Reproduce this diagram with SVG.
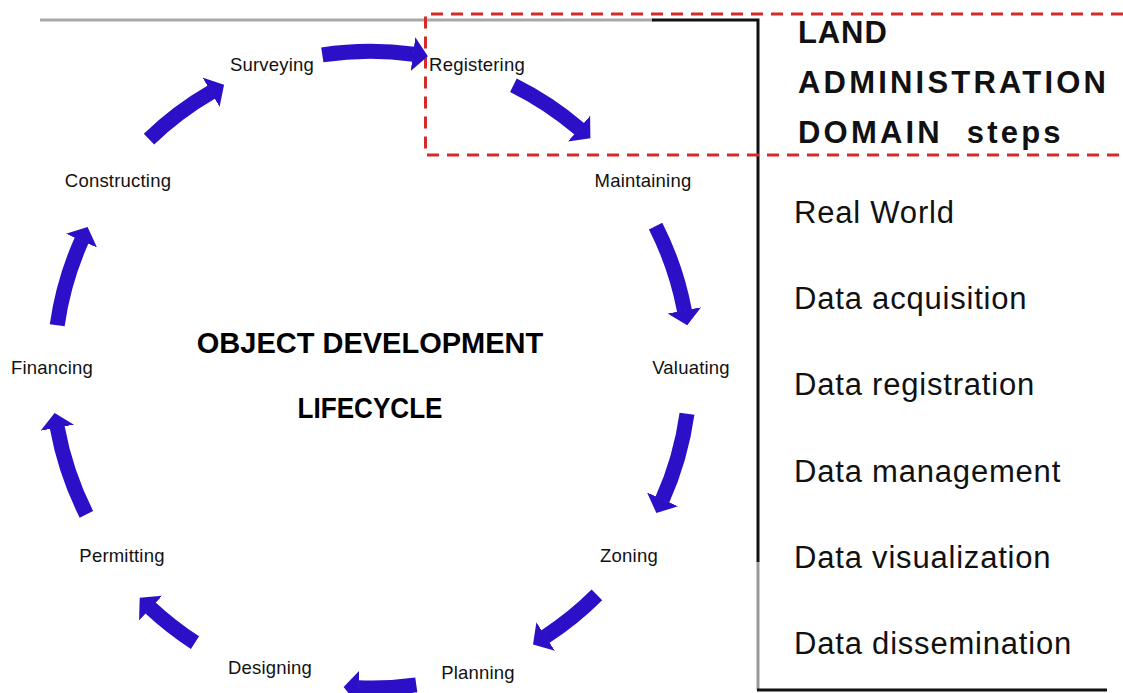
<svg xmlns="http://www.w3.org/2000/svg" width="1123" height="693" viewBox="0 0 1123 693">
<style>
.lbl{font-family:"Liberation Sans",Arial,sans-serif;font-size:18.5px;fill:#111;text-anchor:middle;letter-spacing:0.2px}
.title{font-family:"Liberation Sans",Arial,sans-serif;font-size:29px;font-weight:bold;fill:#000;text-anchor:middle}
.dom{font-family:"Liberation Sans",Arial,sans-serif;font-size:31px;font-weight:bold;fill:#111;letter-spacing:3.2px}
.step{font-family:"Liberation Sans",Arial,sans-serif;font-size:31px;fill:#111;letter-spacing:0.8px}
.arr{fill:none;stroke:#2B10C8;stroke-width:15;marker-end:url(#head)}
</style>
<defs>
<marker id="head" markerUnits="userSpaceOnUse" markerWidth="16" markerHeight="34" refX="0.5" refY="17" orient="auto" viewBox="0 0 16 34">
<path d="M0,0 L15,17 L0,34 Z" fill="#2B10C8"/>
</marker>
</defs>
<rect width="1123" height="693" fill="#fff"/>
<g id="frame">
<line x1="40" y1="20" x2="653" y2="20" stroke="#A8A8A8" stroke-width="3"/>
<path d="M652,20 H758 V562" fill="none" stroke="#111" stroke-width="3"/>
<line x1="758" y1="562" x2="758" y2="690" stroke="#9A9A9A" stroke-width="3"/>
<line x1="757" y1="690" x2="1107" y2="690" stroke="#111" stroke-width="3"/>
<path d="M1123,14 H425.5 V155 H1123" fill="none" stroke="#D42A2A" stroke-width="3" stroke-dasharray="12 8"/>
</g>
<g id="connectors">
<path class="arr" d="M322.3,54.9 A318,318 0 0 1 413.5,54.2"/>
<path class="arr" d="M513.4,85.2 A318,318 0 0 1 579.4,128.9"/>
<path class="arr" d="M655.6,226.1 A318,318 0 0 1 684.5,310.9"/>
<path class="arr" d="M687,413.7 A318,318 0 0 1 662.3,499.8"/>
<path class="arr" d="M596.9,594.9 A318,318 0 0 1 545.2,636.7"/>
<path class="arr" d="M416.3,684.9 A318,318 0 0 1 358.1,687.7"/>
<path class="arr" d="M195,642.6 A325,325 0 0 1 150.3,607.7"/>
<path class="arr" d="M86.4,514.3 A320,320 0 0 1 57.2,427.2"/>
<path class="arr" d="M57.2,325.2 A318,318 0 0 1 81.7,240.2"/>
<path class="arr" d="M149,139.1 A321,321 0 0 1 211.5,92"/>
</g>
<g id="surveying"><text class="lbl" x="272" y="71">Surveying</text></g>
<g id="registering"><text class="lbl" x="477" y="71">Registering</text></g>
<g id="maintaining"><text class="lbl" x="643" y="187">Maintaining</text></g>
<g id="valuating"><text class="lbl" x="691" y="374">Valuating</text></g>
<g id="zoning"><text class="lbl" x="629" y="562">Zoning</text></g>
<g id="planning"><text class="lbl" x="478" y="679">Planning</text></g>
<g id="designing"><text class="lbl" x="270" y="674">Designing</text></g>
<g id="permitting"><text class="lbl" x="122" y="562">Permitting</text></g>
<g id="financing"><text class="lbl" x="52" y="374">Financing</text></g>
<g id="constructing"><text class="lbl" x="118" y="187">Constructing</text></g>
<g id="lifecycle-title">
<text class="title" x="370" y="353">OBJECT DEVELOPMENT</text>
<text class="title" x="370" y="418" textLength="145" lengthAdjust="spacingAndGlyphs">LIFECYCLE</text>
</g>
<g id="domain-title">
<text class="dom" x="798" y="43" textLength="92" lengthAdjust="spacing">LAND</text>
<text class="dom" x="798" y="93">ADMINISTRATION</text>
<text class="dom" x="798" y="143">DOMAIN <tspan dx="12">steps</tspan></text>
</g>
<g id="domain-steps">
<text class="step" x="794" y="223">Real World</text>
<text class="step" x="794" y="309">Data acquisition</text>
<text class="step" x="794" y="395">Data registration</text>
<text class="step" x="794" y="482">Data management</text>
<text class="step" x="794" y="568">Data visualization</text>
<text class="step" x="794" y="654">Data dissemination</text>
</g>
</svg>
